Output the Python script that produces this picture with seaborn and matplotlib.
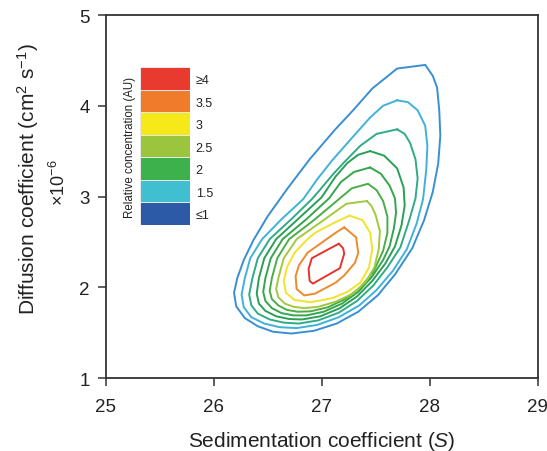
import seaborn as sns
import matplotlib.pyplot as plt
import pandas as pd
import numpy as np
from matplotlib.colors import ListedColormap

# contour lines (sedimentation S, diffusion x1e-6), outer -> inner
c1_s = [27.96, 27.70, 27.47, 27.30, 27.12, 26.89, 26.68, 26.50, 26.37, 26.28, 26.22, 26.19, 26.21, 26.29, 26.41, 26.55, 26.72, 26.93, 27.14, 27.34, 27.52, 27.68, 27.84, 27.95, 28.03, 28.08, 28.10, 28.09, 28.07, 28.03, 27.96]
c1_d = [4.45, 4.41, 4.19, 3.96, 3.73, 3.41, 3.08, 2.78, 2.52, 2.30, 2.10, 1.94, 1.79, 1.66, 1.57, 1.51, 1.49, 1.52, 1.60, 1.73, 1.91, 2.14, 2.43, 2.74, 3.05, 3.36, 3.67, 3.95, 4.20, 4.33, 4.45]

c2_s = [27.70, 27.57, 27.45, 27.27, 27.10, 26.96, 26.83, 26.63, 26.45, 26.34, 26.29, 26.26, 26.28, 26.35, 26.47, 26.61, 26.77, 26.96, 27.16, 27.35, 27.51, 27.66, 27.79, 27.88, 27.94, 27.97, 27.98, 27.96, 27.89, 27.80, 27.70]
c2_d = [4.06, 4.00, 3.87, 3.63, 3.40, 3.19, 2.97, 2.75, 2.53, 2.32, 2.10, 1.92, 1.78, 1.67, 1.60, 1.56, 1.55, 1.585, 1.67, 1.80, 1.97, 2.18, 2.42, 2.70, 2.97, 3.30, 3.56, 3.78, 3.95, 4.04, 4.06]

c3_s = [27.70, 27.51, 27.36, 27.22, 27.11, 26.99, 26.91, 26.72, 26.52, 26.41, 26.36, 26.33, 26.35, 26.41, 26.52, 26.65, 26.79, 26.97, 27.16, 27.33, 27.48, 27.61, 27.73, 27.81, 27.87, 27.89, 27.87, 27.82, 27.77, 27.70]
c3_d = [3.74, 3.69, 3.56, 3.39, 3.25, 3.08, 2.97, 2.75, 2.53, 2.32, 2.10, 1.92, 1.80, 1.71, 1.645, 1.61, 1.60, 1.635, 1.72, 1.85, 2.02, 2.22, 2.44, 2.73, 2.98, 3.20, 3.41, 3.59, 3.69, 3.74]

c4_s = [27.45, 27.34, 27.24, 27.13, 27.00, 26.79, 26.58, 26.47, 26.42, 26.40, 26.42, 26.48, 26.58, 26.70, 26.82, 26.99, 27.17, 27.33, 27.47, 27.59, 27.68, 27.74, 27.77, 27.76, 27.70, 27.58, 27.45]
c4_d = [3.50, 3.46, 3.37, 3.22, 2.99, 2.76, 2.53, 2.32, 2.10, 1.93, 1.82, 1.74, 1.68, 1.65, 1.645, 1.68, 1.77, 1.90, 2.07, 2.26, 2.45, 2.68, 2.90, 3.10, 3.31, 3.45, 3.50]

c5_s = [27.45, 27.30, 27.18, 27.07, 26.86, 26.64, 26.53, 26.48, 26.46, 26.48, 26.54, 26.63, 26.74, 26.86, 27.02, 27.19, 27.34, 27.47, 27.57, 27.63, 27.67, 27.69, 27.68, 27.63, 27.55, 27.45]
c5_d = [3.32, 3.27, 3.16, 2.98, 2.75, 2.53, 2.32, 2.10, 1.95, 1.85, 1.77, 1.715, 1.69, 1.69, 1.73, 1.82, 1.95, 2.12, 2.30, 2.45, 2.65, 2.82, 2.98, 3.12, 3.25, 3.32]

c6_s = [27.43, 27.28, 27.15, 26.93, 26.70, 26.59, 26.54, 26.52, 26.54, 26.60, 26.68, 26.78, 26.90, 27.06, 27.22, 27.36, 27.48, 27.57, 27.61, 27.61, 27.57, 27.51, 27.43]
c6_d = [3.14, 3.09, 2.96, 2.74, 2.53, 2.32, 2.10, 1.96, 1.87, 1.80, 1.75, 1.73, 1.735, 1.78, 1.87, 2.00, 2.17, 2.40, 2.60, 2.78, 2.95, 3.07, 3.14]

c7_s = [27.42, 27.23, 27.02, 26.77, 26.65, 26.60, 26.58, 26.60, 26.66, 26.74, 26.84, 26.97, 27.13, 27.29, 27.41, 27.49, 27.53, 27.54, 27.50, 27.46, 27.42]
c7_d = [2.95, 2.92, 2.74, 2.53, 2.32, 2.10, 1.98, 1.89, 1.82, 1.785, 1.77, 1.785, 1.84, 1.93, 2.06, 2.22, 2.42, 2.62, 2.80, 2.90, 2.95]

c8_s = [27.26, 27.38, 27.45, 27.47, 27.44, 27.36, 27.24, 27.10, 26.90, 26.75, 26.67, 26.65, 26.68, 26.75, 26.87, 26.94, 27.10, 27.26]
c8_d = [2.79, 2.74, 2.60, 2.42, 2.22, 2.05, 1.95, 1.88, 1.835, 1.86, 1.94, 2.07, 2.22, 2.38, 2.53, 2.60, 2.70, 2.79]

c9_s = [27.21, 27.32, 27.34, 27.31, 27.21, 27.13, 26.94, 26.84, 26.77, 26.76, 26.79, 26.87, 27.00, 27.13, 27.21]
c9_d = [2.66, 2.55, 2.38, 2.27, 2.13, 2.05, 1.93, 1.91, 1.98, 2.12, 2.24, 2.38, 2.49, 2.60, 2.66]

c10_s = [27.16, 27.20, 27.21, 27.17, 26.92, 26.89, 26.88, 26.91, 27.16]
c10_d = [2.48, 2.43, 2.37, 2.21, 2.04, 2.07, 2.20, 2.32, 2.48]

line_colors = ['#3a8fd3', '#3fb2d9', '#2fab86', '#2a9f55', '#34a64b', '#4aad47',
               '#a2c93c', '#f3e22b', '#ef8a2c', '#e4342c']

legend_labels = ['\u22654', '3.5', '3', '2.5', '2', '1.5', '\u22641']
legend_colors = ['#e93a2f', '#f07b2b', '#f6e91a', '#9bc53d', '#3db14b', '#3fbfd0', '#2c5aa7']

sns.set_theme(style='white')
plt.rcParams['font.family'] = ['Liberation Sans', 'DejaVu Sans']
plt.rcParams['mathtext.fontset'] = 'custom'
plt.rcParams['mathtext.rm'] = 'Liberation Sans'
plt.rcParams['mathtext.it'] = 'Liberation Sans:italic'

contours = [(c1_s, c1_d), (c2_s, c2_d), (c3_s, c3_d), (c4_s, c4_d), (c5_s, c5_d),
            (c6_s, c6_d), (c7_s, c7_d), (c8_s, c8_d), (c9_s, c9_d), (c10_s, c10_d)]
rows = []
for i, (xs, ys) in enumerate(contours):
    for a, b in zip(xs, ys):
        rows.append((a, b, 'c%d' % i))
df = pd.DataFrame(rows, columns=['s', 'd', 'level'])
pal = {'c%d' % i: c for i, c in enumerate(line_colors)}

fig = plt.figure(figsize=(5.47, 4.52), dpi=100)
ax = fig.add_axes([0.1929, 0.1615, 0.7898, 0.8031])

sns.lineplot(data=df, x='s', y='d', hue='level', palette=pal, sort=False,
             estimator=None, legend=False, linewidth=1.4, ax=ax)

ax.set_xlim(25, 29)
ax.set_ylim(1, 5)
ax.set_xticks([25, 26, 27, 28, 29])
ax.set_yticks([1, 2, 3, 4, 5])
for sp in ax.spines.values():
    sp.set_color('#333333')
    sp.set_linewidth(1.3)
ax.tick_params(axis='both', which='both', direction='out', length=5.5, width=1.1,
               color='#333333', labelsize=13.5, labelcolor='#222222')
ax.tick_params(axis='x', pad=9)
ax.tick_params(axis='y', pad=6)
ax.xaxis.set_ticks_position('bottom')
ax.yaxis.set_ticks_position('left')

ax.set_xlabel('Sedimentation coefficient ($\\it{S}$)', fontsize=15, color='#222222')
ax.xaxis.set_label_coords(0.5, -0.171)
ax.xaxis.label.set_va('center')
ax.set_ylabel('Diffusion coefficient (cm$^{2}$ s$^{-1}$)', fontsize=15, color='#222222')
ax.yaxis.set_label_coords(-0.179, 0.55)
ax.yaxis.label.set_va('center')
ax.text(-0.107, 0.54, '\u00d710$^{-6}$', transform=ax.transAxes, rotation=90,
        ha='center', va='center', fontsize=13, color='#222222')

# colour key
cax = ax.inset_axes([0.0799, 0.4215, 0.1157, 0.4344])
sns.heatmap(np.arange(7).reshape(-1, 1), cmap=ListedColormap(legend_colors),
            vmin=-0.5, vmax=6.5, cbar=False, linewidths=0.6, linecolor='#e8e8e8',
            xticklabels=False, yticklabels=legend_labels, ax=cax)
cax.yaxis.tick_right()
cax.tick_params(axis='y', length=0, pad=4, labelsize=9, rotation=0, labelcolor='#222222')
cax.set_ylabel('Relative concentration (AU)', fontsize=8.3, color='#222222', labelpad=3)
cax.yaxis.set_label_position('left')

fig.savefig('out.png', dpi=100, facecolor='white')
